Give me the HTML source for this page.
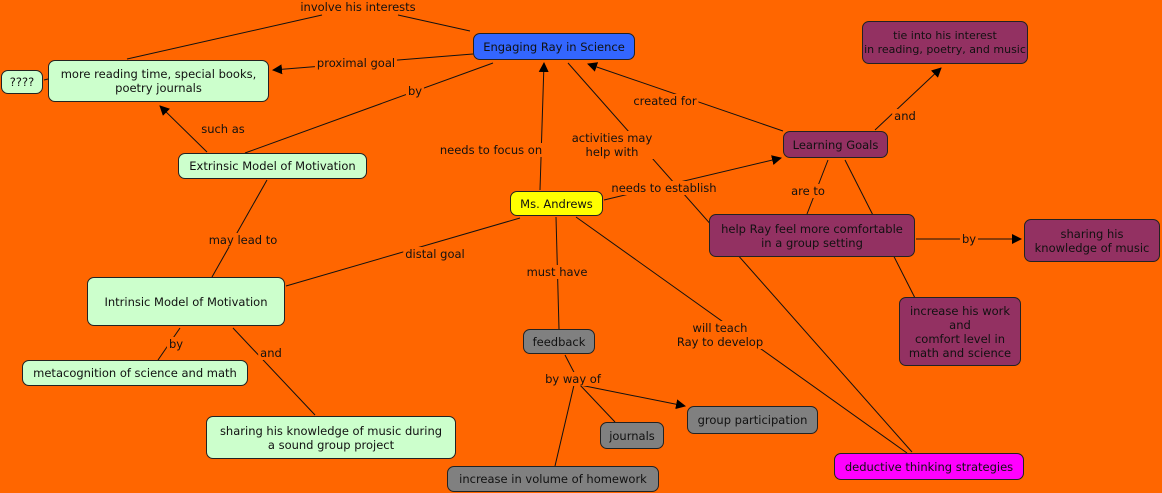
<!DOCTYPE html>
<html><head><meta charset="utf-8"><style>
body{margin:0;width:1162px;height:493px;background:#FF6600;position:relative;overflow:hidden;font-family:"DejaVu Sans",Verdana,sans-serif;font-size:11.5px;color:#111}
.n{position:absolute;box-sizing:border-box;border:1px solid #222;border-radius:7px;display:flex;align-items:center;justify-content:center;text-align:center;line-height:14px;white-space:nowrap}
.g{background:#CCFFCC}.p{background:#933162}.gr{background:#808080}
.l{position:absolute;transform:translate(-50%,-50%);white-space:nowrap;text-align:center;line-height:14px;background:#FF6600;padding:0 2px}
svg{position:absolute;left:0;top:0}
</style></head><body>
<svg width="1162" height="493">
<defs><marker id="a" markerWidth="10" markerHeight="10" refX="9" refY="5" orient="auto" markerUnits="userSpaceOnUse"><path d="M0,0 L10,5 L0,10z" fill="#000"/></marker></defs>
<g stroke="#111" stroke-width="1" fill="none">
<line x1="127" y1="59" x2="322" y2="15"/>
<line x1="398" y1="15" x2="470" y2="31"/>
<line x1="473" y1="54" x2="273" y2="70" marker-end="url(#a)"/>
<line x1="44" y1="80" x2="48" y2="79"/>
<line x1="493" y1="63" x2="245" y2="153"/>
<line x1="207" y1="152" x2="160" y2="106" marker-end="url(#a)"/>
<line x1="540" y1="190" x2="544" y2="63" marker-end="url(#a)"/>
<line x1="568" y1="63" x2="912" y2="452"/>
<line x1="783" y1="131" x2="588" y2="64" marker-end="url(#a)"/>
<line x1="875" y1="130" x2="941" y2="68" marker-end="url(#a)"/>
<line x1="604" y1="200" x2="781" y2="158" marker-end="url(#a)"/>
<line x1="828" y1="160" x2="807" y2="214"/>
<line x1="845" y1="160" x2="915" y2="298"/>
<line x1="916" y1="239" x2="1021" y2="239" marker-end="url(#a)"/>
<line x1="267" y1="180" x2="212" y2="277"/>
<line x1="520" y1="218" x2="286" y2="286"/>
<line x1="556" y1="217" x2="559" y2="329"/>
<line x1="576" y1="217" x2="907" y2="453"/>
<line x1="180" y1="328" x2="158" y2="360"/>
<line x1="233" y1="328" x2="315" y2="415"/>
<line x1="565" y1="355" x2="578" y2="380"/>
<line x1="580" y1="385" x2="685" y2="406" marker-end="url(#a)"/>
<line x1="580" y1="385" x2="615" y2="422"/>
<line x1="574" y1="385" x2="555" y2="466"/>
</g></svg>
<div class="l" style="left:358px;top:7px">involve his interests</div>
<div class="l" style="left:356px;top:63px">proximal goal</div>
<div class="l" style="left:415px;top:91px">by</div>
<div class="l" style="left:223px;top:129px">such as</div>
<div class="l" style="left:491px;top:150px">needs to focus on</div>
<div class="l" style="left:612px;top:145px">activities may<br>help with</div>
<div class="l" style="left:665px;top:101px">created for</div>
<div class="l" style="left:905px;top:116px">and</div>
<div class="l" style="left:664px;top:188px">needs to establish</div>
<div class="l" style="left:808px;top:191px">are to</div>
<div class="l" style="left:243px;top:240px">may lead to</div>
<div class="l" style="left:435px;top:254px">distal goal</div>
<div class="l" style="left:557px;top:272px">must have</div>
<div class="l" style="left:969px;top:239px">by</div>
<div class="l" style="left:176px;top:344px">by</div>
<div class="l" style="left:271px;top:353px">and</div>
<div class="l" style="left:720px;top:335px">will teach<br>Ray to develop</div>
<div class="l" style="left:573px;top:379px">by way of</div>

<div class="n" style="left:473px;top:33px;width:162px;height:27px;background:#3366FF">Engaging Ray in Science</div>
<div class="n g" style="left:1px;top:70px;width:42px;height:24px">????</div>
<div class="n g" style="left:48px;top:60px;width:221px;height:42px">more reading time, special books,<br>poetry journals</div>
<div class="n g" style="left:178px;top:153px;width:189px;height:26px">Extrinsic Model of Motivation</div>
<div class="n g" style="left:87px;top:277px;width:198px;height:49px">Intrinsic Model of Motivation</div>
<div class="n g" style="left:22px;top:360px;width:226px;height:26px">metacognition of science and math</div>
<div class="n g" style="left:206px;top:416px;width:250px;height:43px">sharing his knowledge of music during<br>a sound group project</div>
<div class="n" style="left:510px;top:191px;width:93px;height:25px;background:#FFFF00">Ms. Andrews</div>
<div class="n gr" style="left:523px;top:329px;width:72px;height:25px">feedback</div>
<div class="n gr" style="left:600px;top:422px;width:64px;height:27px">journals</div>
<div class="n gr" style="left:687px;top:406px;width:131px;height:28px">group participation</div>
<div class="n gr" style="left:447px;top:466px;width:212px;height:26px">increase in volume of homework</div>
<div class="n" style="left:834px;top:453px;width:190px;height:27px;background:#FF00FF">deductive thinking strategies</div>
<div class="n p" style="left:783px;top:131px;width:105px;height:27px">Learning Goals</div>
<div class="n p" style="left:862px;top:21px;width:166px;height:43px;font-size:11px">tie into his interest<br>in reading, poetry, and music</div>
<div class="n p" style="left:709px;top:214px;width:206px;height:43px">help Ray feel more comfortable<br>in a group setting</div>
<div class="n p" style="left:1024px;top:219px;width:136px;height:43px">sharing his<br>knowledge of music</div>
<div class="n p" style="left:899px;top:297px;width:122px;height:69px">increase his work<br>and<br>comfort level in<br>math and science</div>
</body></html>
